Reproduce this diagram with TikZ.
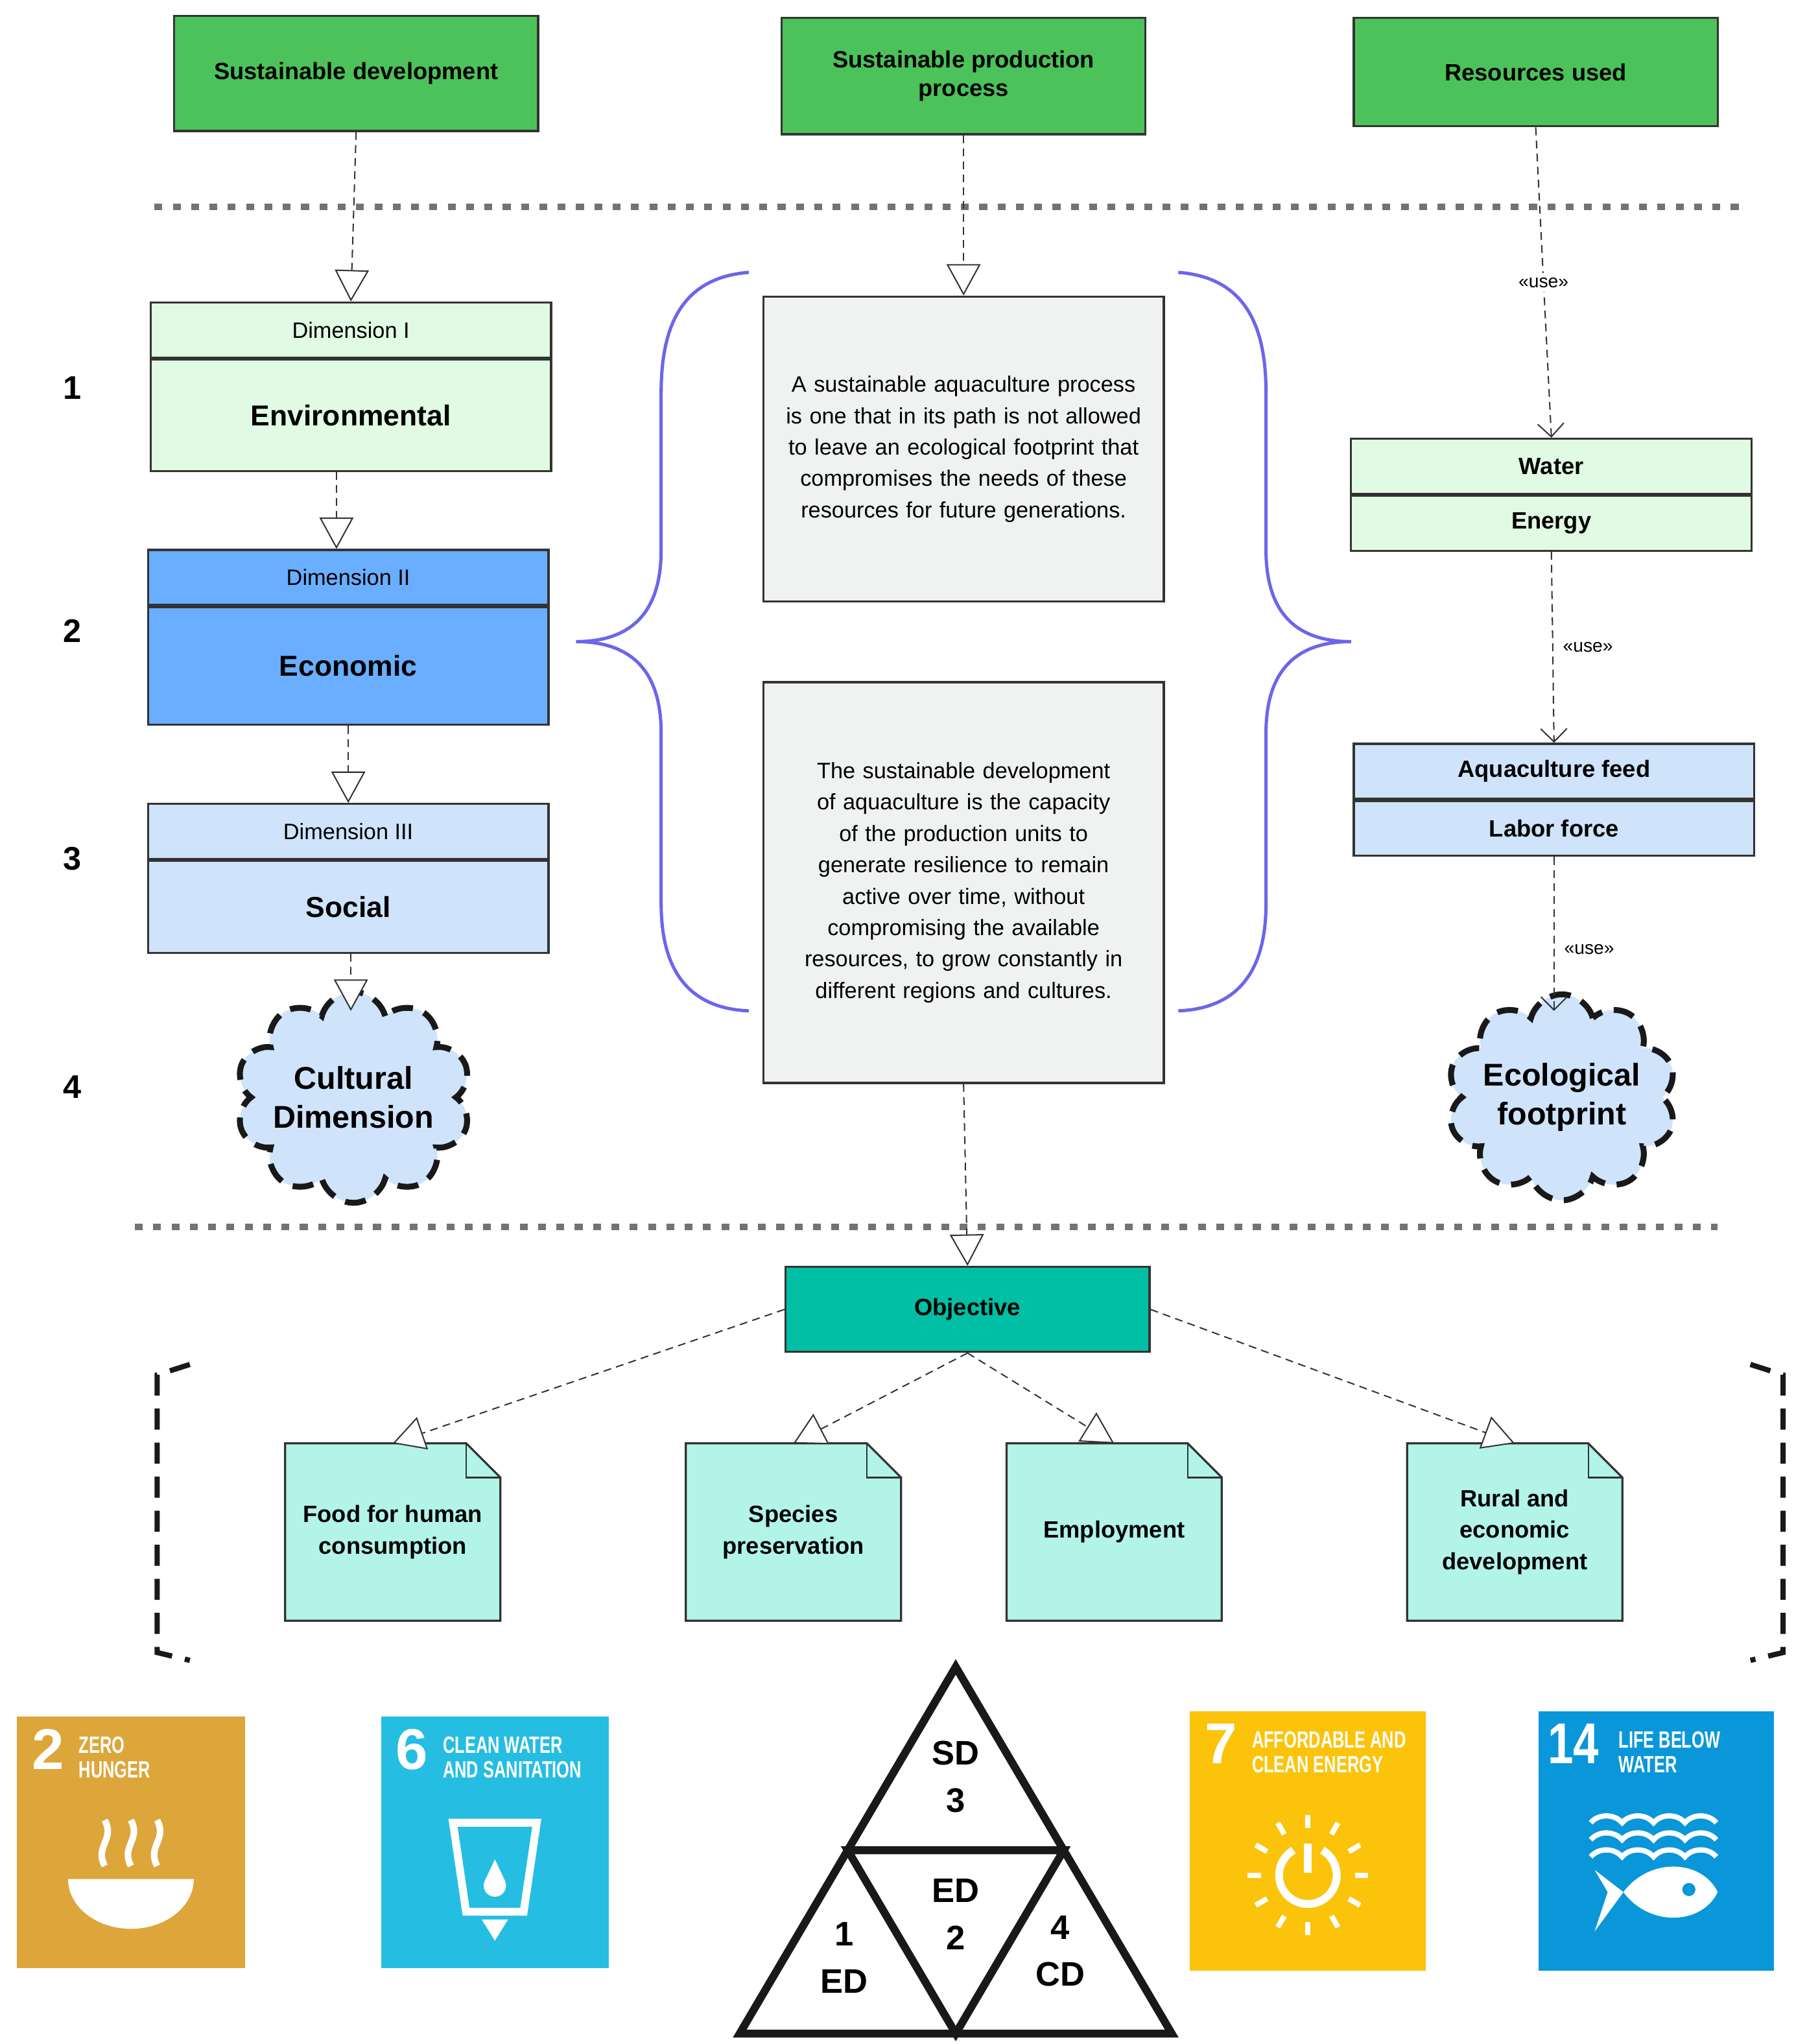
\documentclass[tikz,border=0pt]{standalone}
\usepackage{fontspec}
\setmainfont{Liberation Sans}
\usetikzlibrary{arrows.meta,positioning,shapes.symbols,calc}
\definecolor{topgreen}{HTML}{4CC35A}
\definecolor{lightgreen}{HTML}{E0FAE3}
\definecolor{midblue}{HTML}{6AAEFF}
\definecolor{paleblue}{HTML}{CFE3FB}
\definecolor{textgray}{HTML}{F0F2F2}
\definecolor{objteal}{HTML}{00BFA5}
\definecolor{notemint}{HTML}{B2F5E8}
\definecolor{bracecol}{HTML}{6B66EA}
\definecolor{sdgtwo}{HTML}{DDA63A}
\definecolor{sdgsix}{HTML}{26BDE2}
\definecolor{sdgseven}{HTML}{FCC30B}
\definecolor{sdgfourteen}{HTML}{0A97D9}
\begin{document}
\begin{tikzpicture}[
    x=1pt, y=-1pt,
    %–––– STYLES ––––
    box/.style = {rectangle, draw=black!80, line width=1.6pt, align=center, inner sep=2pt},
    head/.style = {box, fill=topgreen, font=\fontsize{18}{22}\selectfont\bfseries, minimum width=278pt},
    dimhead/.style = {box, font=\fontsize{17}{20}\selectfont, minimum width=306pt, minimum height=42pt},
    dimbody/.style = {box, font=\fontsize{22}{26}\selectfont\bfseries, minimum width=306pt},
    rsc/.style = {box, font=\fontsize{18}{22}\selectfont\bfseries, minimum width=306pt, minimum height=42pt},
    para/.style = {box, fill=textgray, minimum width=306pt, font=\fontsize{17}{24}\selectfont,
                   execute at begin node={\hyphenpenalty=10000\relax}},
    cloudy/.style = {cloud, cloud puffs=10, aspect=1.2, draw=black!90, line width=4.5pt, dash pattern=on 16pt off 9pt,
                     fill=paleblue, align=center, font=\fontsize{24}{30}\selectfont\bfseries, inner sep=-6pt},
    num/.style = {font=\fontsize{25}{30}\selectfont\bfseries},
    note/.style = {minimum width=164pt, minimum height=135pt, align=center, font=\fontsize{18}{24}\selectfont\bfseries},
    gen/.style = {draw=black!80, line width=1pt, dash pattern=on 6pt off 4pt,
                  -{Triangle[open, length=24pt, width=26pt, fill=white]}},
    use/.style = {draw=black!80, line width=1pt, dash pattern=on 6pt off 4pt, -{Straight Barb[length=10pt, width=20pt]}},
    uselbl/.style = {font=\fontsize{14}{16}\selectfont},
    sep/.style = {draw=black!55, line width=5pt, dash pattern=on 6pt off 8pt},
    sdgnum/.style = {text=white, font=\fontsize{44}{44}\selectfont\bfseries, anchor=north west},
    sdgtxt/.style = {text=white, font=\fontsize{18}{19}\selectfont\bfseries, anchor=north west, align=left},
    tri/.style = {font=\fontsize{26}{36}\selectfont\bfseries, align=center},
]
\useasboundingbox (0,0) rectangle (1380,1561);
%–––– TOP ROW ––––
\node (sus_dev)  [head, minimum height=88pt] at (272,56) {Sustainable development};
\node (sus_prod) [head, minimum height=89pt] at (736,58) {Sustainable production\\process};
\node (res_used) [head, minimum height=83pt] at (1173,55) {Resources used};
\draw[sep] (118,158) -- (1328,158);
\draw[sep] (103,937) -- (1312,937);

%–––– DIMENSIONS ––––
\node (env_head)  [dimhead, fill=lightgreen] at (268,252) {Dimension I};
\node (env_body)  [dimbody, fill=lightgreen, minimum height=85pt, below=0pt of env_head] {Environmental};
\node (econ_head) [dimhead, fill=midblue] at (266,441) {Dimension II};
\node (econ_body) [dimbody, fill=midblue, minimum height=90pt, below=0pt of econ_head] {Economic};
\node (soc_head)  [dimhead, fill=paleblue] at (266,635) {Dimension III};
\node (soc_body)  [dimbody, fill=paleblue, minimum height=70pt, below=0pt of soc_head] {Social};
\node (cultural)  [cloudy, minimum width=160pt, minimum height=130pt] at (270,838) {Cultural\\Dimension};

\foreach \n/\y in {1/296, 2/482, 3/656, 4/830}
  \node (num\n) [num] at (55,\y) {\n};

%–––– CENTRE ––––
\node (def_proc) [para, text width=286pt, minimum height=233pt] at (736,343) {A sustainable aquaculture process is one that in its path is not allowed to leave an ecological footprint that compromises the needs of these resources for future generations.};
\node (def_dev)  [para, text width=272pt, minimum height=306pt] at (736,674) {The sustainable development of aquaculture is the capacity of the production units to generate resilience to remain active over time, without compromising the available resources, to grow constantly in different regions and cultures.};

\draw[bracecol, line width=2.5pt] (572,208) .. controls (520,212) and (505,250) .. (505,300) -- (505,420)
   .. controls (505,470) and (480,490) .. (440,490) .. controls (480,490) and (505,510) .. (505,560) -- (505,690)
   .. controls (505,740) and (525,770) .. (572,772);
\draw[bracecol, line width=2.5pt] (900,208) .. controls (952,212) and (967,250) .. (967,300) -- (967,420)
   .. controls (967,470) and (992,490) .. (1032,490) .. controls (992,490) and (967,510) .. (967,560) -- (967,690)
   .. controls (967,740) and (947,770) .. (900,772);

%–––– RESOURCES ––––
\node (water)   [rsc, fill=lightgreen] at (1185,356) {Water};
\node (energy)  [rsc, fill=lightgreen, below=0pt of water] {Energy};
\node (feed)    [rsc, fill=paleblue] at (1187,589) {Aquaculture feed};
\node (labor)   [rsc, fill=paleblue, below=0pt of feed] {Labor force};
\node (eco_fp)  [cloudy, minimum width=160pt, minimum height=130pt] at (1193,838) {Ecological\\footprint};

%–––– OBJECTIVE ––––
\node (objective) [box, fill=objteal, minimum width=278pt, minimum height=65pt, font=\fontsize{18}{22}\selectfont\bfseries] at (739,1000) {Objective};
\foreach \id/\x/\txt in {food/300/Food for human\\consumption, species/606/Species\\preservation,
                         employ/851/Employment, rural/1157/Rural and\\economic\\development}{
  \node (\id) [note] at (\x,1170) {\txt};
  \draw[black!80, line width=1.6pt, fill=notemint] (\id.south west) -- (\id.north west) -- ($(\id.north east)+(-26,0)$)
     -- ($(\id.north east)+(0,26)$) -- (\id.south east) -- cycle;
  \draw[black!80, line width=1.2pt] ($(\id.north east)+(-26,0)$) -- ($(\id.north east)+(-26,26)$) -- ($(\id.north east)+(0,26)$);
  \node at (\id) [note] {\txt};
}
\draw[black!90, line width=4pt, dash pattern=on 16pt off 10pt] (145,1042) -- (120,1050) -- (120,1262) -- (145,1268);
\draw[black!90, line width=4pt, dash pattern=on 16pt off 10pt] (1337,1042) -- (1362,1050) -- (1362,1262) -- (1337,1268);

%–––– ARROWS ––––
\draw[gen] (sus_dev.south) -- (env_head.north);
\draw[gen] (env_body.south -| 257,0) -- (econ_head.north -| 257,0);
\draw[gen] (econ_body.south) -- (soc_head.north);
\draw[gen] (soc_body.south -| 268,0) -- (268,772);
\draw[gen] (sus_prod.south) -- (def_proc.north);
\draw[gen] (def_dev.south) -- (objective.north);
\draw[gen] (objective.west) -- (food.north);
\draw[gen] (objective.south) -- (species.north);
\draw[gen] (objective.south) -- (employ.north);
\draw[gen] (objective.east) -- (rural.north);
\draw[use] (res_used.south) -- node[uselbl, fill=white, pos=0.5] {«use»} (water.north);
\draw[use] (energy.south) -- node[uselbl, right=4pt] {«use»} (feed.north);
\draw[use] (labor.south) -- node[uselbl, right=4pt, pos=0.6] {«use»} (1187,772);

%–––– SDG ICONS ––––
\node (sdg2)  [fill=sdgtwo, minimum width=174pt, minimum height=192pt] at (100,1407) {};
\node (sdg6)  [fill=sdgsix, minimum width=174pt, minimum height=192pt] at (378,1407) {};
\node (sdg7)  [fill=sdgseven, minimum width=180pt, minimum height=198pt] at (999,1406) {};
\node (sdg14) [fill=sdgfourteen, minimum width=180pt, minimum height=198pt] at (1265,1406) {};
\node [sdgnum] at ($(sdg2.north west)+(8,6)$) {2};
\node [sdgtxt] at ($(sdg2.north west)+(44,12)$) {\scalebox{0.7}[1]{ZERO}\\\scalebox{0.7}[1]{HUNGER}};
\node [sdgnum] at ($(sdg6.north west)+(8,6)$) {6};
\node [sdgtxt] at ($(sdg6.north west)+(44,12)$) {\scalebox{0.7}[1]{CLEAN WATER}\\\scalebox{0.7}[1]{AND SANITATION}};
\node [sdgnum] at ($(sdg7.north west)+(8,6)$) {7};
\node [sdgtxt] at ($(sdg7.north west)+(44,12)$) {\scalebox{0.7}[1]{AFFORDABLE AND}\\\scalebox{0.7}[1]{CLEAN ENERGY}};
\node [sdgnum] at ($(sdg14.north west)+(4,6)$) {\scalebox{0.8}[1]{14}};
\node [sdgtxt] at ($(sdg14.north west)+(58,12)$) {\scalebox{0.7}[1]{LIFE BELOW}\\\scalebox{0.7}[1]{WATER}};
% bowl
\fill[white] (52,1435) -- (148,1435) arc[start angle=0, end angle=-180, x radius=48, y radius=-38] -- cycle;
\foreach \dx in {-20,0,20}
  \draw[white, line width=5pt] (100+\dx,1425) .. controls (92+\dx,1410) and (108+\dx,1405) .. (100+\dx,1390);
% glass
\draw[white, line width=6pt] (346,1392) -- (410,1392) -- (400,1460) -- (356,1460) -- cycle;
\fill[white] (378,1482) -- (368,1466) -- (388,1466) -- cycle;
\fill[white] (378,1420) -- (370,1437) -- (386,1437) -- cycle;
\fill[white] (378,1440) circle (8.5);
% sun
\draw[white, line width=6pt] (1010,1413) arc[start angle=300, end angle=600, radius=22];
\draw[white, line width=6pt] (999,1408) -- (999,1430);
\foreach \a in {0,30,...,330}
  \draw[white, line width=4pt] ($(999,1432)+(\a:36)$) -- ($(999,1432)+(\a:46)$);
% waves and fish
\foreach \yy in {1392,1405,1418}
  \draw[white, line width=4pt] (1215,\yy) \foreach \k in {0,1,2,3} { .. controls (1215+24*\k+6,\yy-7) and (1215+24*\k+18,\yy-7) .. (1215+24*\k+24,\yy) };
\fill[white] (1218,1428) -- (1240,1445) .. controls (1260,1418) and (1300,1420) .. (1312,1445) .. controls (1300,1470) and (1260,1472) .. (1240,1445) -- (1218,1475) -- (1228,1445) -- cycle;
\fill[sdgfourteen] (1290,1443) circle (5);

%–––– TRIANGLE ––––
\coordinate (tri_top) at (730,1273);
\coordinate (tri_l) at (565,1553);
\coordinate (tri_r) at (895,1553);
\draw[black!90, line width=6pt, line join=miter] (tri_top) -- (tri_l) -- (tri_r) -- cycle;
\draw[black!90, line width=6pt, line join=miter] ($(tri_top)!0.5!(tri_l)$) -- ($(tri_top)!0.5!(tri_r)$) -- ($(tri_l)!0.5!(tri_r)$) -- cycle;
\node (sd3) [tri] at (730,1357) {SD\\3};
\node (ed2) [tri] at (730,1462) {ED\\2};
\node (ed1) [tri] at (645,1495) {1\\ED};
\node (cd4) [tri] at (810,1490) {4\\CD};
\end{tikzpicture}
\end{document}
